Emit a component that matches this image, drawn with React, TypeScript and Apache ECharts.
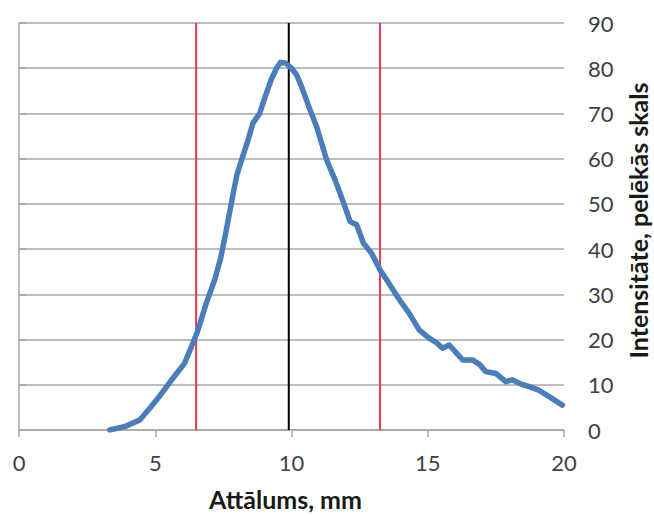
import React, { useEffect, useRef } from "react";
import * as echarts from "echarts";

const distance = [
  3.33, 3.9, 4.43, 4.8, 5.2, 5.59, 6.08, 6.38, 6.57, 6.87, 7.18, 7.4, 7.6, 7.85, 8.0,
  8.21, 8.4, 8.58, 8.83, 9.05, 9.25, 9.45, 9.6, 9.8, 10.0, 10.19, 10.37, 10.68, 10.92,
  11.29, 11.6, 11.96, 12.15, 12.39, 12.64, 12.94, 13.25, 13.49, 13.96, 14.32,
  14.69, 15.05, 15.3, 15.54, 15.79, 16.28, 16.64, 16.9, 17.13, 17.5, 17.86, 18.1, 18.4,
  18.72, 19.08, 19.5, 19.94,
];
const intensity = [
  0, 0.8, 2.2, 4.8, 7.8, 11, 14.8, 19.2, 22.1, 28, 33.2, 38, 44, 52, 56.5,
  60.5, 64, 67.8, 70, 74, 77.4, 80, 81.3, 81.1, 80, 78.5, 75.9, 70.8, 67.1,
  59.7, 55.3, 49.4, 46.1, 45.4, 41.3, 39.1, 35.4, 33.2, 28.8, 25.8,
  22.1, 20.3, 19.4, 18.1, 18.8, 15.5, 15.5, 14.5, 12.9, 12.5, 10.7, 11.1, 10.2,
  9.6, 8.8, 7.2, 5.5,
];
const redLines = [6.5, 13.25];
const blackLines = [9.9];
const xTicks = [0, 5, 10, 15, 20];
const yTicks = [0, 10, 20, 30, 40, 50, 60, 70, 80, 90];

export default function App() {
  const ref = useRef<HTMLDivElement>(null);
  useEffect(() => {
    if (!ref.current) return;
    const chart = echarts.init(ref.current, null, { renderer: "svg" });
    const vline = (x: number, color: string, name: string) => ({
      type: "line",
      name,
      data: [
        [x, yTicks[0]],
        [x, yTicks[yTicks.length - 1]],
      ],
      symbol: "none",
      lineStyle: { color, width: 2 },
      z: 2,
    });
    chart.setOption({
      animation: false,
      backgroundColor: "#ffffff",
      textStyle: { fontFamily: "Lato" },
      grid: { left: 19, right: 90, top: 23, bottom: 86, containLabel: false, outerBoundsMode: "none" },
      xAxis: {
        type: "value",
        min: xTicks[0],
        max: xTicks[xTicks.length - 1],
        interval: 5,
        name: "Attālums, mm",
        nameLocation: "middle",
        nameGap: 56,
        nameTextStyle: {
          fontFamily: "Lato",
          fontWeight: "bold",
          fontSize: 25,
          color: "#1a1a1a",
          padding: [0, 12, 0, 0],
        },
        axisLine: { show: true, onZero: false, lineStyle: { color: "#a6a6a6", width: 1.5 } },
        axisTick: { show: true, length: 7, lineStyle: { color: "#a6a6a6", width: 1.5 } },
        axisLabel: { fontSize: 22, color: "#404040", margin: 21 },
        splitLine: { show: false },
      },
      yAxis: {
        type: "value",
        position: "right",
        min: yTicks[0],
        max: yTicks[yTicks.length - 1],
        interval: 10,
        name: "Intensitāte, pelēkās skals",
        nameLocation: "middle",
        nameRotate: 90,
        nameGap: 61,
        nameTextStyle: {
          fontFamily: "Lato",
          fontWeight: "bold",
          fontSize: 25,
          color: "#1a1a1a",
          padding: [0, 0, 0, 12],
        },
        axisLine: { show: true, lineStyle: { color: "#a6a6a6", width: 1.5 } },
        axisTick: { show: true, length: 7, lineStyle: { color: "#a6a6a6", width: 1.5 } },
        axisLabel: { fontSize: 22, color: "#404040", margin: 24 },
        splitLine: { show: true, lineStyle: { color: "#a6a6a6", width: 1.5 } },
      },
      series: [
        ...redLines.map((x, i) => vline(x, "#e8364e", "red" + i)),
        ...blackLines.map((x, i) => vline(x, "#000000", "black" + i)),
        {
          type: "line",
          name: "profile",
          data: distance.map((d, i) => [d, intensity[i]]),
          symbol: "none",
          lineStyle: { color: "#4a7ebb", width: 5.5, join: "round", cap: "round" },
          z: 3,
        },
      ],
    });
    return () => chart.dispose();
  }, []);
  return (
    <div
      ref={ref}
      style={{ position: "fixed", left: 0, top: 0, width: 654, height: 516 }}
    />
  );
}
